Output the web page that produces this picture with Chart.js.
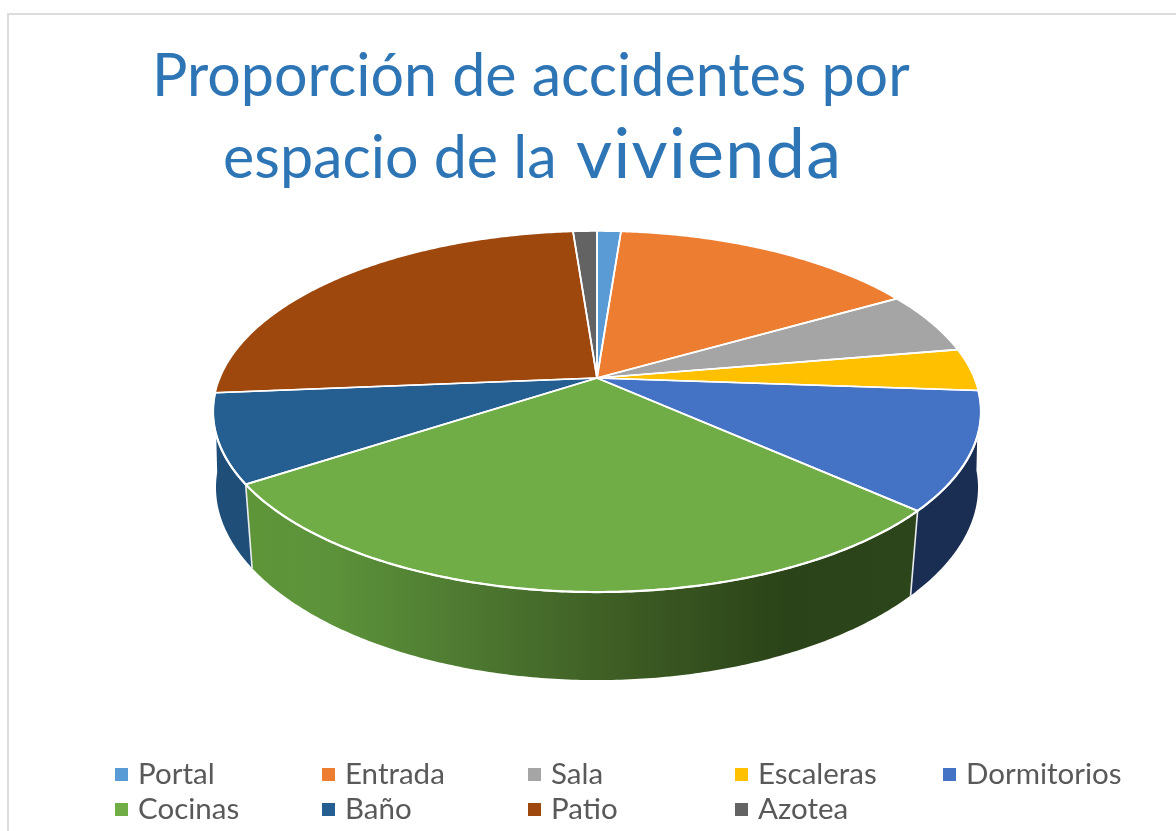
<!DOCTYPE html>
<html lang="es">
<head>
<meta charset="utf-8">
<title>Proporción de accidentes por espacio de la vivienda</title>
<script src="https://cdn.jsdelivr.net/npm/chart.js@4"></script>
<style>
html,body{margin:0;padding:0;background:#fff;overflow:hidden}
#wrap{position:relative;width:1176px;height:831px}
canvas{display:block}
</style>
</head>
<body>
<div id="wrap"><canvas id="c" width="1176" height="831"></canvas></div>
<script>
const categories = ["Portal","Entrada","Sala","Escaleras","Dormitorios","Cocinas","Baño","Patio","Azotea"];
const values = [1.2,15.5,5.6,3.8,10.5,29.1,7.9,25.1,1.2];
const topColors = ["#5b9bd5","#ed7d31","#a5a5a5","#ffc000","#4472c4","#70ad47","#255e91","#9e480e","#636363"];
const sideColors = ["#3a6d9c","#a8561d","#747474","#b38600","#1a2d52","#5f9539","#1f4e79","#6f320a","#444444"];
const titleLine1 = "Proporción de accidentes por";
const titleLine2a = "espacio de la";
const titleLine2b = "vivienda";
const FONT = "Lato, Carlito, Calibri, sans-serif";

// Perspective of the disc (pixels)
const cx = 597, cy = 378, a = 377.3, b = 174.3, k = 0.1857;
const proj = th => {
  const u = Math.cos(th), v = -Math.sin(th), w = 1 + k * v;
  return [cx + a * u / w, cy - b * v / w];
};
const low = p => [cx + (p[0] - cx) * (0.992 - (p[1] - 411) * 0.00014), 680 + (p[1] - 592) * 1.04];

function arcPoints(s, e) {
  const n = Math.max(2, Math.ceil((e - s) / 0.01)), pts = [];
  for (let i = 0; i <= n; i++) pts.push(proj(s + (e - s) * i / n));
  return pts;
}
function poly(ctx, pts) {
  ctx.beginPath();
  pts.forEach((p, i) => i ? ctx.lineTo(p[0], p[1]) : ctx.moveTo(p[0], p[1]));
  ctx.closePath();
}

const pie3d = {
  id: "pie3d",
  beforeDatasetDraw(chart) {
    const ctx = chart.ctx, arcs = chart.getDatasetMeta(0).data;
    ctx.save();
    // walls of the slices that face the viewer
    arcs.forEach((el, i) => {
      if (Math.sin((el.startAngle + el.endAngle) / 2) <= 0) return;
      const pts = arcPoints(el.startAngle, el.endAngle);
      poly(ctx, pts.concat(pts.map(low).reverse()));
      if (categories[i] === "Cocinas") {
        const g = ctx.createLinearGradient(254, 0, 910, 0);
        g.addColorStop(0, sideColors[i]);
        g.addColorStop(0.12, "#5c923a");
        g.addColorStop(0.32, "#4e7a31");
        g.addColorStop(0.52, "#406126");
        g.addColorStop(0.81, "#2b4318");
        g.addColorStop(1, "#2d451a");
        ctx.fillStyle = g;
      } else ctx.fillStyle = sideColors[i];
      ctx.fill();
    });
    // seams on the visible front wall
    ctx.strokeStyle = "#e8ecef";
    ctx.lineWidth = 1.6;
    arcs.forEach(el => {
      const p = proj(el.startAngle);
      if (p[1] > 470) {
        const q = low(p);
        ctx.beginPath(); ctx.moveTo(p[0], p[1]); ctx.lineTo(q[0], q[1]); ctx.stroke();
      }
    });
    // top faces
    arcs.forEach((el, i) => {
      poly(ctx, [[cx, cy]].concat(arcPoints(el.startAngle, el.endAngle)));
      ctx.fillStyle = topColors[i];
      ctx.fill();
    });
    ctx.strokeStyle = "#ffffff";
    ctx.lineJoin = "round";
    ctx.lineWidth = 1.7;
    arcs.forEach(el => {
      poly(ctx, [[cx, cy]].concat(arcPoints(el.startAngle, el.endAngle)));
      ctx.stroke();
    });
    // brighter rim along the front edge
    ctx.lineWidth = 2.2;
    arcs.forEach(el => {
      if (Math.sin((el.startAngle + el.endAngle) / 2) <= 0) return;
      const pts = arcPoints(el.startAngle, el.endAngle);
      ctx.beginPath();
      pts.forEach((p, j) => j ? ctx.lineTo(p[0], p[1]) : ctx.moveTo(p[0], p[1]));
      ctx.stroke();
    });
    ctx.restore();
    return false;
  },
  afterDraw(chart) {
    const ctx = chart.ctx;
    ctx.save();
    // frame
    ctx.fillStyle = "#dcdcdc";
    ctx.fillRect(7, 13, 1169, 2);
    ctx.fillRect(7, 13, 2, 818);
    // title
    ctx.fillStyle = "#2e75b6";
    ctx.textBaseline = "alphabetic";
    ctx.textAlign = "left";
    ctx.font = "59.2px " + FONT;
    ctx.fillText(titleLine1, 152, 96);
    ctx.fillText(titleLine2a, 223, 178);
    ctx.font = "70px " + FONT;
    ctx.letterSpacing = "1.3px";
    ctx.fillText(titleLine2b, 576, 178);
    ctx.letterSpacing = "0px";
    // legend
    const xs = [115, 322, 528, 735, 943], ys = [768, 803];
    ctx.font = "29.5px " + FONT;
    categories.forEach((name, i) => {
      const x = xs[i % 5], y = ys[Math.floor(i / 5)];
      ctx.fillStyle = topColors[i];
      ctx.fillRect(x, y, 13, 13);
      ctx.fillStyle = "#595959";
      ctx.fillText(name, x + 23, y + 16);
    });
    ctx.restore();
  }
};

new Chart(document.getElementById("c"), {
  type: "pie",
  data: { labels: categories, datasets: [{ data: values, backgroundColor: topColors, borderColor: "#fff" }] },
  options: {
    responsive: false,
    animation: false,
    plugins: { legend: { display: false }, title: { display: false }, tooltip: { enabled: false } }
  },
  plugins: [pie3d]
});
</script>
</body>
</html>
